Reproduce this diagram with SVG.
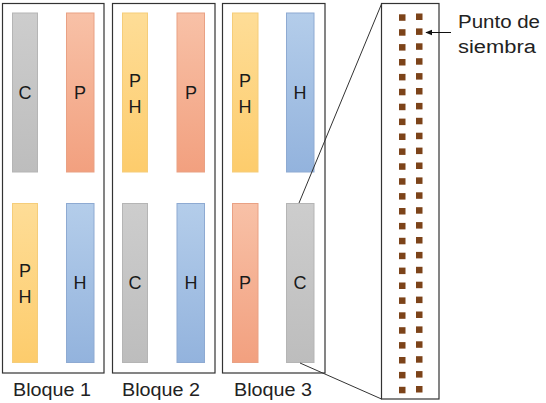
<svg xmlns="http://www.w3.org/2000/svg" width="546" height="403" viewBox="0 0 546 403">
<defs>
<linearGradient id="gC" x1="0" y1="0" x2="0" y2="1"><stop offset="0" stop-color="#cdcdcd"/><stop offset="1" stop-color="#bdbdbd"/></linearGradient>
<linearGradient id="gP" x1="0" y1="0" x2="0" y2="1"><stop offset="0" stop-color="#f8c1a7"/><stop offset="1" stop-color="#f2a07f"/></linearGradient>
<linearGradient id="gY" x1="0" y1="0" x2="0" y2="1"><stop offset="0" stop-color="#fedd97"/><stop offset="1" stop-color="#fdcc6c"/></linearGradient>
<linearGradient id="gH" x1="0" y1="0" x2="0" y2="1"><stop offset="0" stop-color="#b4cdea"/><stop offset="1" stop-color="#93b3dd"/></linearGradient>
<marker id="arr" viewBox="0 0 10 10" refX="9" refY="5" markerWidth="7" markerHeight="7" orient="auto"><path d="M0,1 L10,5 L0,9 z" fill="#111"/></marker>
<g id="dotrow"><rect x="399" y="0" width="6.5" height="6.5"/><rect x="416" y="-0.8" width="6.5" height="6.5"/></g>
</defs>
<style>
.blk{fill:#fff;stroke:#333;stroke-width:1.2}
.c{fill:url(#gC);stroke:#b5b5b5;stroke-width:1}
.p{fill:url(#gP);stroke:#e9a184;stroke-width:1}
.y{fill:url(#gY);stroke:#f5cd7a;stroke-width:1}
.h{fill:url(#gH);stroke:#8eaad2;stroke-width:1}
.t{font-family:"Liberation Sans",Arial,sans-serif;font-size:18px;fill:#1a1a1a;text-anchor:middle}
.lbl{font-family:"Liberation Sans",Arial,sans-serif;font-size:18px;fill:#222}
.dots{fill:#7c4319}
</style>
<g id="bloque1">
<rect class="blk" x="2.5" y="3.5" width="101.5" height="369.5"/>
<rect class="c" x="12.5" y="13" width="25" height="159"/><text class="t" x="25" y="99">C</text>
<rect class="p" x="66.5" y="13" width="27.5" height="159"/><text class="t" x="80" y="99">P</text>
<rect class="y" x="12.5" y="203.5" width="25" height="159"/><text class="t" x="25" y="277">P</text><text class="t" x="25" y="303">H</text>
<rect class="h" x="66.5" y="203.5" width="27.5" height="159"/><text class="t" x="80" y="289">H</text>
<text class="lbl" x="52" y="396" text-anchor="middle" textLength="78" lengthAdjust="spacingAndGlyphs">Bloque 1</text>
</g>
<g id="bloque2">
<rect class="blk" x="112.5" y="3.5" width="102.5" height="369.5"/>
<rect class="y" x="122.5" y="13" width="25" height="159"/><text class="t" x="135" y="87">P</text><text class="t" x="135" y="113">H</text>
<rect class="p" x="177" y="13" width="27.5" height="159"/><text class="t" x="191" y="99">P</text>
<rect class="c" x="122.5" y="203.5" width="25" height="159"/><text class="t" x="135" y="289">C</text>
<rect class="h" x="177" y="203.5" width="27.5" height="159"/><text class="t" x="191" y="289">H</text>
<text class="lbl" x="161" y="396" text-anchor="middle" textLength="78" lengthAdjust="spacingAndGlyphs">Bloque 2</text>
</g>
<g id="bloque3">
<rect class="blk" x="222.5" y="3.5" width="102.5" height="369.5"/>
<rect class="y" x="232.5" y="13" width="25.5" height="159"/><text class="t" x="245" y="87">P</text><text class="t" x="245" y="113">H</text>
<rect class="h" x="286.5" y="13" width="27.5" height="159"/><text class="t" x="300" y="99">H</text>
<rect class="p" x="232.5" y="203.5" width="25.5" height="159"/><text class="t" x="245" y="289">P</text>
<rect class="c" x="286.5" y="203.5" width="27.5" height="159"/><text class="t" x="300" y="289">C</text>
<text class="lbl" x="273" y="396" text-anchor="middle" textLength="78" lengthAdjust="spacingAndGlyphs">Bloque 3</text>
</g>
<g id="detalle">
<rect class="blk" x="381.5" y="3.5" width="57.5" height="395.5"/>
<g class="dots">
<use href="#dotrow" y="14.3"/><use href="#dotrow" y="29.2"/><use href="#dotrow" y="44.1"/><use href="#dotrow" y="59"/><use href="#dotrow" y="73.9"/><use href="#dotrow" y="88.8"/><use href="#dotrow" y="103.7"/><use href="#dotrow" y="118.6"/><use href="#dotrow" y="133.5"/><use href="#dotrow" y="148.4"/><use href="#dotrow" y="163.3"/><use href="#dotrow" y="178.2"/><use href="#dotrow" y="193.1"/><use href="#dotrow" y="208"/><use href="#dotrow" y="222.9"/><use href="#dotrow" y="237.8"/><use href="#dotrow" y="252.7"/><use href="#dotrow" y="267.6"/><use href="#dotrow" y="282.5"/><use href="#dotrow" y="297.4"/><use href="#dotrow" y="312.3"/><use href="#dotrow" y="327.2"/><use href="#dotrow" y="342.1"/><use href="#dotrow" y="357"/><use href="#dotrow" y="371.9"/><use href="#dotrow" y="386.8"/>
</g>
</g>
<g id="etiqueta">
<text class="lbl" x="458" y="28" textLength="82" lengthAdjust="spacingAndGlyphs">Punto de</text>
<text class="lbl" x="458" y="53" textLength="78" lengthAdjust="spacingAndGlyphs">siembra</text>
</g>
<g id="conectores" fill="none" stroke="#333" stroke-width="1">
<line x1="381.5" y1="4" x2="299" y2="203"/>
<line x1="300" y1="363" x2="381.5" y2="399"/>
<line x1="451" y1="32.5" x2="426" y2="32.5" stroke="#111" marker-end="url(#arr)"/>
</g>
</svg>
